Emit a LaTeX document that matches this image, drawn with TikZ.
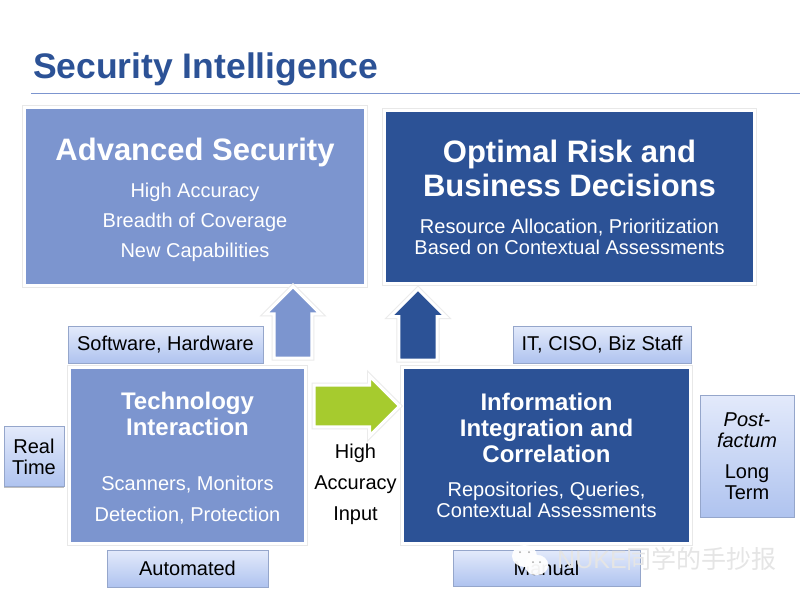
\documentclass[tikz,border=0pt]{standalone}
\usepackage{fontspec}
\setmainfont{Liberation Sans}
\newfontfamily\cjk{Noto Sans CJK SC}
\usetikzlibrary{positioning}
\usetikzlibrary{shadows}
\usetikzlibrary{shapes.arrows}
\definecolor{lightblue}{HTML}{7C95CF}
\definecolor{darkblue}{HTML}{2C5296}
\definecolor{limegreen}{HTML}{A6CB2E}
\definecolor{tagtop}{HTML}{E3EAFB}
\definecolor{tagbot}{HTML}{AFC3EF}
\newcommand{\bigtitle}{\fontsize{31}{21}\bfseries}
\newcommand{\midtitle}{\fontsize{24}{21}\bfseries}
\newcommand{\bodytext}{\fontsize{20}{21}\selectfont\lineskiplimit=-100pt\relax}
\tikzstyle{panel}=[draw=white,line width=3pt,text=white,align=center,inner sep=0pt,font=\bodytext,preaction={draw=black!9,line width=5.5pt}]
\tikzstyle{tagbox}=[draw=tagbot!85!black,line width=.7pt,top color=tagtop,bottom color=tagbot,align=center,inner sep=0pt,font=\bodytext,drop shadow={shadow xshift=0pt,shadow yshift=-1pt,fill=black!50,opacity=.5}]
\tikzstyle{blockarrow}=[single arrow,draw=white,line width=3pt,inner sep=0pt,text depth=0pt,anchor=tail,single arrow head indent=0pt,single arrow tip angle=90,preaction={draw=black!8,line width=5pt}]
\begin{document}
\begin{tikzpicture}[x=1pt,y=-1pt]
\useasboundingbox (0,0) rectangle (800,600);
\fill[white] (0,0) rectangle (800,600);
\node [anchor=west,text=darkblue,font=\fontsize{35.5}{38}\bfseries] (title) at (29.5,69) {Security Intelligence};
\coordinate (ruleL) at (31,93.5);
\coordinate (ruleR) at (800,93.5);
\draw[lightblue,line width=1pt] (ruleL) -- (ruleR);

% top panels
\node [panel,fill=lightblue,minimum width=341pt,minimum height=178pt] (adv) at (195,196.5) {%
  \rule{0pt}{28.5pt}{\bigtitle Advanced Security}\\[16pt]
  High Accuracy\\[9pt]
  Breadth of Coverage\\[9pt]
  New Capabilities};
\node [panel,fill=darkblue,minimum width=370pt,minimum height=173pt] (opt) at (569.5,197) {%
  {\bigtitle Optimal Risk and}\\[13pt]
  {\bigtitle Business Decisions}\\[16pt]
  Resource Allocation, Prioritization\\
  Based on Contextual Assessments};

% lower panels
\node [tagbox,minimum width=187pt,minimum height=36pt] (manual) at (546.5,568) {Manual};
\node [panel,fill=lightblue,minimum width=236pt,minimum height=176pt] (tech) at (187.5,455.5) {%
  \rule{0pt}{22pt}{\midtitle Technology}\\[5pt]
  {\midtitle Interaction}\\[34pt]
  Scanners, Monitors\\[10pt]
  Detection, Protection};
\node [panel,fill=darkblue,minimum width=288pt,minimum height=176pt] (info) at (546.5,455.5) {%
  {\midtitle Information}\\[5pt]
  {\midtitle Integration and}\\[5pt]
  {\midtitle Correlation}\\[12.5pt]
  Repositories, Queries,\\
  Contextual Assessments};

% side tags
\node [tagbox,minimum width=195pt,minimum height=37pt] (soft) at (165.5,344.5) {Software, Hardware};
\node [tagbox,minimum width=178pt,minimum height=37pt] (staff) at (602,344.5) {IT, CISO, Biz Staff};
\node [tagbox,minimum width=60pt,minimum height=60pt] (real) at (34,456.5) {Real\\Time};
\node [tagbox,minimum width=161pt,minimum height=37pt] (auto) at (187.5,568.5) {Automated};
\node [tagbox,minimum width=94pt,minimum height=122pt] (post) at (747,456) {{\itshape Post-}\\{\itshape factum}\\[10pt]Long\\Term};

% block arrows
\node [blockarrow,fill=lightblue,rotate=90,text height=28pt,minimum width=55pt,minimum height=71.6pt] (upL) at (293,359.5) {};
\node [blockarrow,fill=darkblue,rotate=90,text height=29pt,minimum width=55pt,minimum height=71pt] (upR) at (418,361.5) {};
\node [blockarrow,fill=limegreen,text height=30pt,minimum width=60pt,minimum height=85.6pt] (green) at (312.5,406) {};
\node [font=\bodytext,align=center] (input) at (355.5,484) {High\\[10pt]Accuracy\\[10pt]Input};

% watermark
\fill[white,opacity=.95] (524.5,556) ellipse (12.5pt and 11pt);
\draw[white,fill=white,opacity=.95] (536.5,565) ellipse (11.5pt and 10pt);
\fill[black!35] (520,552) circle (1pt) (529,552) circle (1pt) (533,562) circle (1pt) (540,562) circle (1pt);
\node [anchor=west,text=black!10,font=\fontsize{25}{26}\selectfont] (mark) at (553.7,559) {NUKE{\cjk 同学的手抄报}};
\end{tikzpicture}
\end{document}
